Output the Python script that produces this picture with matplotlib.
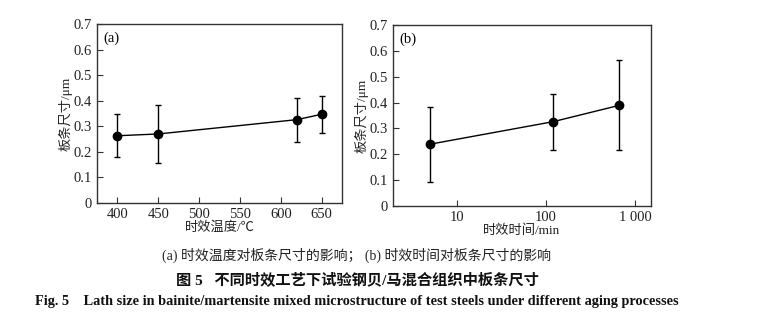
import matplotlib
matplotlib.use("Agg")
import matplotlib.pyplot as plt
import numpy as np

# Data
temp = [400, 450, 620, 650]
size_temp = [0.263, 0.270, 0.326, 0.347]
err_temp_low = [0.085, 0.113, 0.088, 0.075]
err_temp_high = [0.085, 0.112, 0.086, 0.073]

time = [5, 120, 660]
size_time = [0.239, 0.326, 0.389]
err_time_low = [0.145, 0.110, 0.173]
err_time_high = [0.143, 0.108, 0.174]

temp_ticks = [400, 450, 500, 550, 600, 650]
time_ticks = [10, 100, 1000]
time_ticklabels = ["10", "100", "1 000"]
y_ticks = [0, 0.1, 0.2, 0.3, 0.4, 0.5, 0.6, 0.7]
y_ticklabels = ["0", "0.1", "0.2", "0.3", "0.4", "0.5", "0.6", "0.7"]

serif = ["Liberation Serif", "DejaVu Serif"]
cjk = ["Liberation Serif", "Noto Sans CJK SC", "DejaVu Sans"]

W, H = 758, 323
fig = plt.figure(figsize=(W / 100, H / 100), dpi=100)

def ax_rect(l, t, r, b):
    return [l / W, 1 - b / H, (r - l) / W, (b - t) / H]

axa = fig.add_axes(ax_rect(97, 24, 342, 203))
axb = fig.add_axes(ax_rect(393, 25, 651, 206))

frame_col = "#333333"
for ax in (axa, axb):
    for s in ax.spines.values():
        s.set_color(frame_col)
        s.set_linewidth(1.0)
    ax.tick_params(direction="in", length=4, width=0.8, colors=frame_col,
                   labelcolor="#222222", labelsize=10.5)
    ax.set_ylim(0, 0.7)
    ax.set_yticks(y_ticks)
    ax.set_yticklabels(y_ticklabels, fontfamily=serif)
    ax.tick_params(axis="both", which="both", top=False, right=False)
    ax.set_ylabel("板条尺寸/μm", fontfamily=cjk, fontsize=9.5, color="#222222", labelpad=0.5)

axa.errorbar(temp, size_temp, yerr=[err_temp_low, err_temp_high], fmt="-o",
             color="black", markersize=6, linewidth=1.0, elinewidth=1.0,
             capsize=2.5, capthick=1.0)
axa.set_xlim(375, 675)
axa.set_xticks(temp_ticks)
axa.set_xticklabels([str(t) for t in temp_ticks], fontfamily=serif)
axa.set_xlabel("时效温度/℃", fontfamily=cjk, fontsize=9.5, color="#222222", labelpad=0.5)
axa.text(0.025, 0.96, "(a)", transform=axa.transAxes, ha="left", va="top",
         fontfamily=serif, fontsize=10.5)

axb.errorbar(time, size_time, yerr=[err_time_low, err_time_high], fmt="-o",
             color="black", markersize=6, linewidth=1.0, elinewidth=1.0,
             capsize=2.5, capthick=1.0)
axb.set_xscale("log")
axb.set_xlim(1.92, 1510)
axb.set_xticks(time_ticks)
axb.set_xticklabels(time_ticklabels, fontfamily=serif)
axb.xaxis.set_minor_locator(matplotlib.ticker.NullLocator())
axb.set_xlabel("时效时间/min", fontfamily=cjk, fontsize=9.5, color="#222222", labelpad=0.5)
axb.text(0.025, 0.96, "(b)", transform=axb.transAxes, ha="left", va="top",
         fontfamily=serif, fontsize=10.5)

fig.text(357 / W, 1 - 255 / H, "(a) 时效温度对板条尺寸的影响； (b) 时效时间对板条尺寸的影响",
         ha="center", va="center", fontfamily=cjk, fontsize=10, color="#222222")
fig.text(357 / W, 1 - 280 / H, "图 5   不同时效工艺下试验钢贝/马混合组织中板条尺寸",
         ha="center", va="center", fontfamily=cjk, fontsize=11, fontweight="bold", color="#111111")
fig.text(35 / W, 1 - 302 / H,
         "Fig. 5    Lath size in bainite/martensite mixed microstructure of test steels under different aging processes",
         ha="left", va="center", fontfamily=serif, fontsize=10.3, fontweight="bold", color="#111111")

fig.savefig("out.png", dpi=100)
